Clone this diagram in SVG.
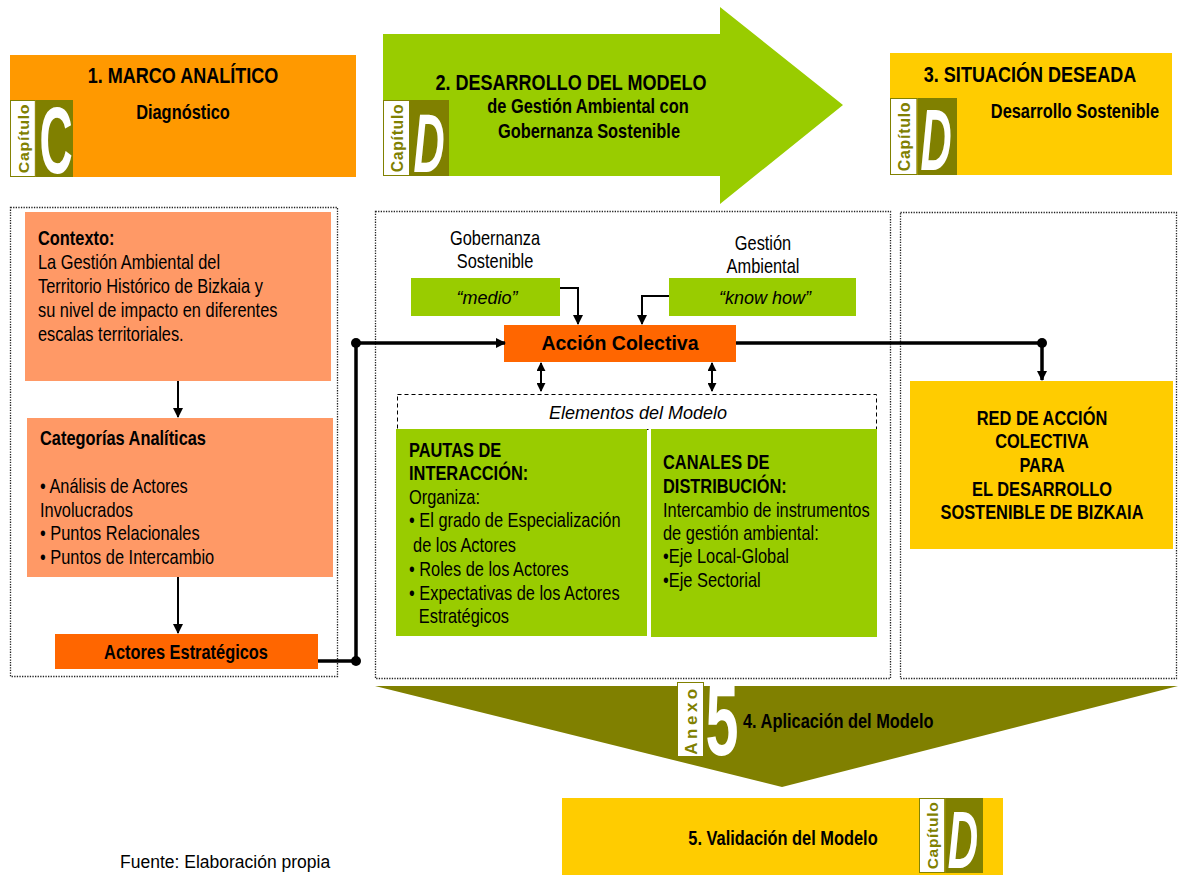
<svg xmlns="http://www.w3.org/2000/svg" xmlns:xlink="http://www.w3.org/1999/xlink" width="1178" height="876" viewBox="0 0 1178 876">
<style>
.n{font-family:"Liberation Sans",Arial,sans-serif;font-size:20px;fill:#000}
.t{font-size:22px;font-weight:bold}
.a{font-family:"Liberation Sans",Arial,sans-serif;fill:#000}
.b{font-weight:bold}
.i{font-style:italic}
.mid{text-anchor:middle}
.dot{fill:none;stroke:#222;stroke-width:1.3;stroke-dasharray:1.3 1.3}
.ln{fill:none;stroke:#000;stroke-width:2}
.thk{fill:none;stroke:#000;stroke-width:3.5}
.big{font-family:"Liberation Sans",Arial,sans-serif;font-weight:bold;font-size:54px;fill:#fff;text-anchor:middle}
</style>
<defs>
<marker id="ar" viewBox="0 0 10 10" refX="9" refY="5" markerWidth="10" markerHeight="10" markerUnits="userSpaceOnUse" orient="auto"><path d="M0,0L10,5L0,10z" fill="#000"/></marker>
<marker id="ar2" viewBox="0 0 10 10" refX="9" refY="5" markerWidth="9" markerHeight="9" markerUnits="userSpaceOnUse" orient="auto-start-reverse"><path d="M0,0L10,5L0,10z" fill="#000"/></marker>
<symbol id="badge" viewBox="0 0 66 77" preserveAspectRatio="none">
<rect x="0.5" y="0.5" width="26" height="76" fill="#fff" stroke="#808000"/>
<rect x="27" y="0" width="39" height="77" fill="#808000"/>
<text transform="translate(19.5,38.5) rotate(-90)" text-anchor="middle" style="font-family:'Liberation Sans',Arial,sans-serif;font-weight:bold;font-size:16px;letter-spacing:0.7px;fill:#808000">Capítulo</text>
</symbol>
</defs>
<rect width="1178" height="876" fill="#fff"/>

<g id="header1">
<rect x="10" y="55" width="346" height="122" fill="#FF9900"/>
<use xlink:href="#badge" x="10" y="100" width="63" height="77"/>
<text class="big" transform="translate(56,173) scale(0.85,1.75)">C</text>
<text class="n t mid" transform="translate(183,83) scale(.82,1)">1. MARCO ANALÍTICO</text>
<text class="n b mid" transform="translate(183,119) scale(.82,1)">Diagnóstico</text>
</g>

<g id="header2">
<path d="M383,34H720V7L843,105L720,204V176H383z" fill="#99CC00"/>
<use xlink:href="#badge" x="383" y="100" width="66" height="76"/>
<text class="big i" transform="translate(429,172) scale(0.8,1.55)">D</text>
<text class="n t mid" transform="translate(571,90) scale(.82,1)">2. DESARROLLO DEL MODELO</text>
<text class="n b mid" transform="translate(588,113) scale(.82,1)">de Gestión Ambiental con</text>
<text class="n b mid" transform="translate(589,138) scale(.82,1)">Gobernanza Sostenible</text>
</g>

<g id="header3">
<rect x="890" y="53" width="282" height="122" fill="#FFCC00"/>
<use xlink:href="#badge" x="890" y="98" width="67" height="77"/>
<text class="big i" transform="translate(936,170) scale(0.8,1.6)">D</text>
<text class="n t mid" transform="translate(1030,82) scale(.82,1)">3. SITUACIÓN DESEADA</text>
<text class="n b mid" transform="translate(1075,118) scale(.82,1)">Desarrollo Sostenible</text>
</g>

<g id="containers">
<rect class="dot" x="10.5" y="207.5" width="327" height="469"/>
<rect class="dot" x="375.5" y="211.5" width="515" height="467"/>
<rect class="dot" x="900.5" y="212.5" width="276" height="466"/>
</g>

<g id="contexto">
<rect x="25" y="212" width="306" height="169" fill="#FF9966"/>
<text class="n" transform="translate(38,245) scale(.82,1)"><tspan class="b">Contexto:</tspan><tspan x="0" dy="24">La Gestión Ambiental del</tspan><tspan x="0" dy="24">Territorio Histórico de Bizkaia y</tspan><tspan x="0" dy="24">su nivel de impacto en diferentes</tspan><tspan x="0" dy="24">escalas territoriales.</tspan></text>
</g>

<g id="categorias">
<rect x="27" y="418" width="306" height="159" fill="#FF9966"/>
<text class="n b" transform="translate(40,445) scale(.82,1)">Categorías Analíticas</text>
<text class="n" transform="translate(40,493) scale(.82,1)">• Análisis de Actores<tspan x="0" dy="24">Involucrados</tspan><tspan x="0" dy="23">• Puntos Relacionales</tspan><tspan x="0" dy="24">• Puntos de Intercambio</tspan></text>
</g>

<g id="actores">
<rect x="55" y="634" width="263" height="35" fill="#FF6600"/>
<text class="n b mid" transform="translate(186,659) scale(.82,1)">Actores Estratégicos</text>
</g>

<g id="gobernanza">
<text class="n mid" transform="translate(495,245) scale(.82,1)">Gobernanza<tspan x="0" dy="23">Sostenible</tspan></text>
<rect x="411" y="278" width="149" height="38" fill="#99CC00"/>
<text class="a i mid" x="487" y="304" font-size="18">“medio”</text>
</g>

<g id="gestion">
<text class="n mid" transform="translate(763,250) scale(.82,1)">Gestión<tspan x="0" dy="23">Ambiental</tspan></text>
<rect x="669" y="278" width="187" height="38" fill="#99CC00"/>
<text class="a i mid" x="765" y="304" font-size="18">“know how”</text>
</g>

<g id="accion">
<rect x="504" y="325" width="232" height="37" fill="#FF6600"/>
<text class="a b mid" x="620" y="350" font-size="19.5">Acción Colectiva</text>
</g>

<g id="elementos">
<rect x="397.5" y="394.5" width="479" height="35" fill="none" stroke="#000" stroke-width="1" stroke-dasharray="4 3"/>
<text class="a i mid" x="638" y="419" font-size="18">Elementos del Modelo</text>
</g>

<g id="pautas">
<rect x="396" y="429" width="251" height="207" fill="#99CC00"/>
<text class="n" transform="translate(409,457) scale(.82,1)"><tspan class="b">PAUTAS DE</tspan><tspan class="b" x="0" dy="23">INTERACCIÓN:</tspan><tspan x="0" dy="24">Organiza:</tspan><tspan x="0" dy="23">• El grado de Especialización</tspan><tspan x="5" dy="25">de los Actores</tspan><tspan x="0" dy="24">• Roles de los Actores</tspan><tspan x="0" dy="24">• Expectativas de los Actores</tspan><tspan x="12" dy="23">Estratégicos</tspan></text>
</g>

<g id="canales">
<rect x="651" y="429" width="226" height="208" fill="#99CC00"/>
<text class="n" transform="translate(663,469) scale(.82,1)"><tspan class="b">CANALES DE</tspan><tspan class="b" x="0" dy="24">DISTRIBUCIÓN:</tspan><tspan x="0" dy="24">Intercambio de instrumentos</tspan><tspan x="0" dy="23">de gestión ambiental:</tspan><tspan x="0" dy="23">•Eje Local-Global</tspan><tspan x="0" dy="24">•Eje Sectorial</tspan></text>
</g>

<g id="red">
<rect x="910" y="381" width="263" height="168" fill="#FFCC00"/>
<text class="n b mid" transform="translate(1042,425) scale(.82,1)"><tspan x="0">RED DE ACCIÓN</tspan><tspan x="0" dy="23">COLECTIVA</tspan><tspan x="0" dy="24">PARA</tspan><tspan x="0" dy="24">EL DESARROLLO</tspan><tspan x="0" dy="23">SOSTENIBLE DE BIZKAIA</tspan></text>
</g>

<g id="aplicacion">
<path d="M375,686H1178L782,787z" fill="#808000"/>
<rect x="677.5" y="682.5" width="26" height="74" fill="#fff" stroke="#808000"/>
<text transform="translate(697,720) rotate(-90)" text-anchor="middle" style="font-family:'Liberation Sans',Arial,sans-serif;font-weight:bold;font-size:17px;letter-spacing:3.5px;fill:#808000">Anexo</text>
<text class="big" transform="translate(722,755) scale(1.1,1.85)">5</text>
<text class="n b" transform="translate(743,728) scale(.82,1)">4. Aplicación del Modelo</text>
</g>

<g id="validacion">
<rect x="562" y="798" width="441" height="77" fill="#FFCC00"/>
<use xlink:href="#badge" x="919" y="798" width="64" height="75"/>
<text class="big i" transform="translate(963,868) scale(0.78,1.5)">D</text>
<text class="n b mid" transform="translate(783,845) scale(.82,1)">5. Validación del Modelo</text>
</g>

<g id="fuente">
<text class="a" x="120" y="868" font-size="17.5">Fuente: Elaboración propia</text>
</g>

<g id="connectors">
<line class="ln" x1="178" y1="381" x2="178" y2="417" marker-end="url(#ar)"/>
<line class="ln" x1="178" y1="577" x2="178" y2="633" marker-end="url(#ar)"/>
<polyline class="thk" points="318,661 356,661 356,343 505,343" marker-end="url(#ar)"/>
<circle cx="356" cy="661" r="5"/>
<circle cx="356" cy="343" r="5"/>
<polyline class="ln" points="560,288 578,288 578,324" marker-end="url(#ar)"/>
<polyline class="ln" points="669,296 642,296 642,324" marker-end="url(#ar)"/>
<polyline class="thk" points="736,343 1042,343 1042,380" marker-end="url(#ar)"/>
<circle cx="1042" cy="343" r="5"/>
<line class="ln" x1="541" y1="363" x2="541" y2="391" marker-start="url(#ar2)" marker-end="url(#ar2)"/>
<line class="ln" x1="712" y1="363" x2="712" y2="391" marker-start="url(#ar2)" marker-end="url(#ar2)"/>
</g>
</svg>
